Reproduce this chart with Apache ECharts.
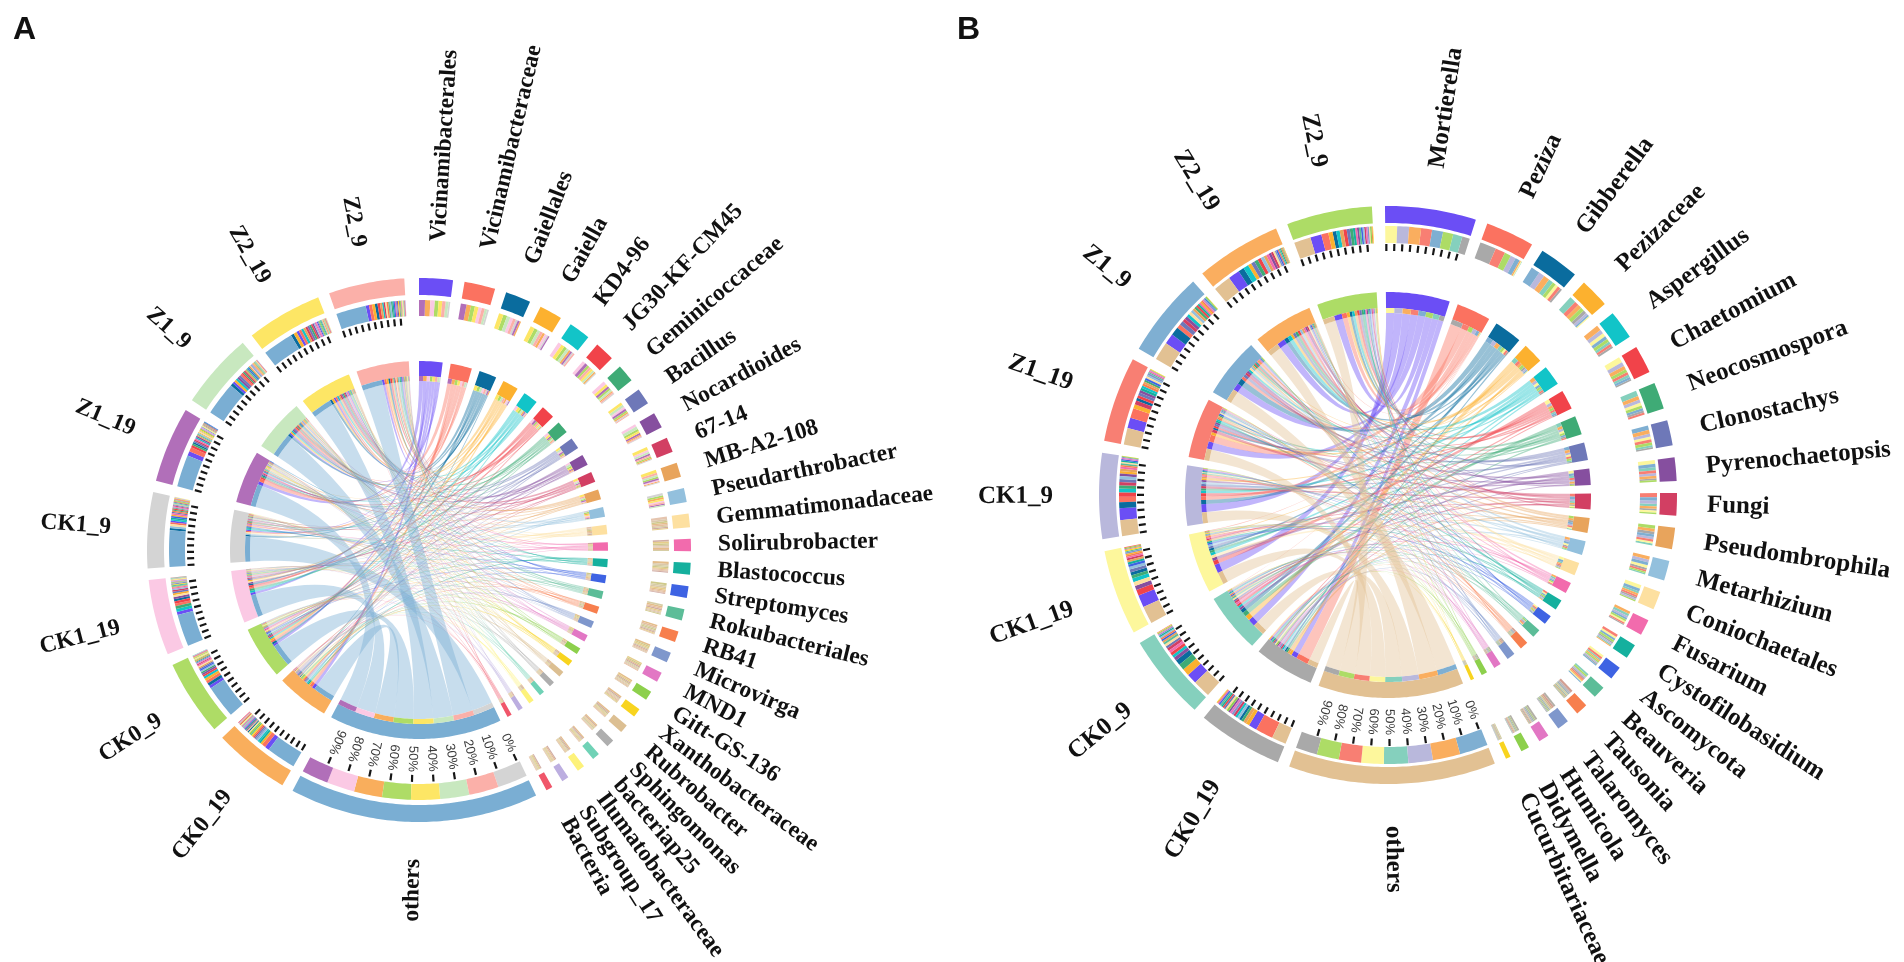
<!DOCTYPE html>
<html><head><meta charset="utf-8">
<style>html,body{margin:0;padding:0;background:#fff}#c{width:1904px;height:962px}</style>
<script src="https://cdn.jsdelivr.net/npm/echarts@6/dist/echarts.min.js"></script>
</head><body><div id="c"></div>
<script>
// ---------- data ----------
const samples = ["CK0_19","CK0_9","CK1_19","CK1_9","Z1_19","Z1_9","Z2_19","Z2_9"];
const genusColors = ["#6b4ef5","#fb7260","#0a6c9e","#fcb12f","#12c4c8","#f1434a","#3fab76","#6e78b8","#864f9f","#d23f63","#e8a45c","#93c0dd","#fde0a0","#f26bad","#15b09e","#3e63e3","#5cbd98","#f77f4e","#7f97cc","#e277c4","#8dd04c","#f8d41f","#dcbf92","#aeaeae","#70d2b6","#fdf27a","#bcaee0","#f0566a"];

const genusA = ["Vicinamibacterales","Vicinamibacteraceae","Gaiellales","Gaiella","KD4-96","JG30-KF-CM45","Geminicoccaceae","Bacillus","Nocardioides","67-14","MB-A2-108","Pseudarthrobacter","Gemmatimonadaceae","Solirubrobacter","Blastococcus","Streptomyces","Rokubacteriales","RB41","Microvirga","MND1","Gitt-GS-136","Xanthobacteraceae","Rubrobacter","Sphingomonas","bacteriap25","Ilumatobacteraceae","Subgroup_17","Bacteria"];
const genusSizeA = [7.2,6.6,5.4,4.9,4.6,4.2,3.8,3.5,3.4,3.2,3.1,3.0,2.9,2.6,2.5,2.5,2.4,2.3,2.2,2.1,2.0,1.9,1.8,1.7,1.6,1.6,1.5,1.4];
const othersSizeA = 53.2;
const sampleSizeA = [16.2,16.2,16.2,16.2,16.2,16.2,16.2,16.2];
const sampleColorsA = ["#f9ae5c","#aedc66","#fbc9e4","#d4d4d4","#b16fb9","#c8e8bf","#fde665","#fbb0a9"];
const othersColorA = "#7aaed3";
const othersStackA = [12.2,12.4,12,13,11.5,12.6,12.5,12.8];
const othersShareInSampleA = [0.42,0.47,0.46,0.52,0.46,0.48,0.44,0.43];
const flowsA = [
 [16,12,13,5,18,9,11,10],[15,13,11,6,19,8,12,10],[6,16,12,9,8,14,18,11],[12,17,11,7,6,14,20,13],
 [10,15,19,8,9,14,17,8],[9,14,18,6,16,11,12,14],[8,13,22,7,14,12,16,8],[11,12,15,8,13,17,18,6],
 [9,16,18,6,12,18,14,7],[8,10,15,7,13,14,22,11],[8,13,9,6,12,14,23,15],[14,15,12,16,10,9,13,11],
 [12,13,19,15,10,11,8,12],[11,14,12,13,16,9,15,10],[20,12,10,14,9,13,11,11],[12,18,9,14,8,15,13,11],
 [15,9,11,10,13,16,12,14],[16,13,9,12,11,14,10,15],[18,14,8,10,12,13,14,11],[14,15,10,11,13,12,16,9],
 [18,13,11,9,14,10,15,10],[19,11,12,8,15,13,10,12],[17,14,9,12,16,10,12,10],[16,12,13,10,15,11,14,9],
 [18,11,10,13,15,12,12,9],[17,15,12,9,16,11,10,10],[16,12,14,10,18,9,12,9],[14,13,10,12,17,11,13,10]
];

const genusB = ["Mortierella","Peziza","Gibberella","Pezizaceae","Aspergillus","Chaetomium","Neocosmospora","Clonostachys","Pyrenochaetopsis","Fungi","Pseudombrophila","Metarhizium","Coniochaetales","Fusarium","Cystofilobasidium","Ascomycota","Beauveria","Tausonia","Talaromyces","Humicola","Didymella","Cucurbitariaceae"];
const genusSizeB = [18.3,9.8,8,5.9,5.8,5.6,5.4,5.1,4.7,4.5,4.3,4,3.7,3.2,3,2.7,2.5,2.4,2.4,2.1,1.7,1.0];
const othersSizeB = 41.7;
const sampleSizeB = [17.2,17.2,17.2,17.2,17.2,17.2,17.2,17.2];
const sampleColorsB = ["#a9a9a9","#85d0bd","#fdf79c","#b9b8dc","#f87f73","#7fafd2","#faae5f","#addc66"];
const othersColorB = "#e2c193";
const othersStackB = [11,12.4,11.5,12.5,11.4,14.5,14,11.3];
const othersShareInSampleB = [0.18,0.22,0.22,0.20,0.21,0.23,0.22,0.21];
const flowsB = [
 [9,11,14,14,13,13,14,12],[36,1,2,12,22,10,3,14],[6,13,8,16,8,24,16,9],[12,24,5,9,16,6,14,14],
 [8,10,14,15,9,12,20,12],[6,10,22,16,11,9,14,12],[9,22,12,13,8,10,15,11],[7,9,12,13,12,19,16,12],
 [8,14,18,12,13,15,12,8],[10,12,9,15,20,16,11,7],[14,9,10,12,11,13,15,16],[12,7,14,16,10,15,18,8],
 [10,12,22,9,11,17,12,7],[8,17,11,13,9,12,18,12],[11,9,15,10,19,14,8,14],[10,12,18,11,16,9,12,12],
 [13,16,10,14,12,9,11,15],[7,12,13,15,21,14,10,8],[18,10,12,8,16,11,14,11],[20,9,11,13,10,14,8,15],
 [22,8,12,9,10,13,11,15],[14,10,24,9,12,8,11,12]
];

const percentTicks = ["0%","10%","20%","30%","40%","50%","60%","70%","80%","90%"];

// ---------- styles & layout (not data) ----------
const panelsCfg = [
 {key:"A",center:[419,550],start:0,gap:2.45,out:[272,255],stack:[250,234],tick:[232,225],pct:222,inner:[189,174],strip:[174,169],label:309,labelLeft:309,labelSide:10,font:23.5,
  muteBelow:3.0,muteColor:"#dcc39a",muteAmt:0.72,
  genus:genusA,size:genusSizeA,others:othersSizeA,sSize:sampleSizeA,sColor:sampleColorsA,oColor:othersColorA,oStack:othersStackA,oShare:othersShareInSampleA,flows:flowsA},
 {key:"B",center:[1388,495],start:-0.6,gap:2.4,out:[289,272],stack:[269,252],tick:[251,244],pct:240,inner:[203,187],strip:[187,182],label:331,labelLeft:335,labelSide:12,font:25,
  muteBelow:2.5,muteColor:"#b9b5a6",muteAmt:0.6,
  genus:genusB,size:genusSizeB,others:othersSizeB,sSize:sampleSizeB,sColor:sampleColorsB,oColor:othersColorB,oStack:othersStackB,oShare:othersShareInSampleB,flows:flowsB}
];
const TICK_MIN_SIZE = 12;

function arc(api,r,a0,a1){
  const n=Math.max(2,Math.ceil(Math.abs(a1-a0)/0.75)+1),p=[];
  for(let i=0;i<n;i++)p.push(api.coord([r,a0+(a1-a0)*i/(n-1)]));
  return p;
}
function bez(p0,c,p1){
  const o=[];
  for(let i=1;i<24;i++){const t=i/24,u=1-t;o.push([u*u*p0[0]+2*u*t*c[0]+t*t*p1[0],u*u*p0[1]+2*u*t*c[1]+t*t*p1[1]]);}
  return o;
}
function rgb(h){const n=parseInt(h.slice(1),16);return [n>>16,(n>>8)&255,n&255];}
function hexA(h,a){const c=rgb(h);return `rgba(${c[0]},${c[1]},${c[2]},${a})`;}
function mix(h,m,t){const a=rgb(h),b=rgb(m);return `rgb(${a.map((v,i)=>Math.round(v*(1-t)+b[i]*t)).join(",")})`;}

function build(cfg,pi){
  const G=cfg.genus.length,S=samples.length;
  const rows=cfg.flows.concat([cfg.oStack]);            // row G = others
  const sizes=cfg.size.concat([cfg.others]);
  const rowColor=i=>i===G?cfg.oColor:genusColors[i];
  // sector placement
  let cur=cfg.start; const gs=[],ss=[];
  for(let i=0;i<=G;i++){gs.push([cur,cur+sizes[i]]);cur+=sizes[i]+cfg.gap;}
  for(let j=0;j<S;j++){ss.push([cur,cur+cfg.sSize[j]]);cur+=cfg.sSize[j]+cfg.gap;}
  // genus side slices
  const gSlice={},sSlice={};
  rows.forEach((row,i)=>{
    const tot=row.reduce((a,b)=>a+b,0);
    const order=row.map((v,j)=>[v,j]).sort((a,b)=>b[0]-a[0]);
    let a=gs[i][0];
    order.forEach(([v,j])=>{const w=v/tot*sizes[i];gSlice[i+"_"+j]=[a,a+w];a+=w;});
  });
  // sample side slices: others first, genera by size of their flow
  for(let j=0;j<S;j++){
    const list=[];let sum=0;
    for(let i=0;i<G;i++){const tot=rows[i].reduce((a,b)=>a+b,0);const v=rows[i][j]/tot*sizes[i];list.push([v,i]);sum+=v;}
    list.sort((a,b)=>b[0]-a[0]);
    const W=cfg.sSize[j];let a=ss[j][0];
    const oW=W*cfg.oShare[j];sSlice[G+"_"+j]=[a,a+oW];a+=oW;
    list.forEach(([v,i])=>{const w=v/sum*(W-oW);sSlice[i+"_"+j]=[a,a+w];a+=w;});
  }
  // marks
  const ribbons=[],bands=[],ticks=[],labels=[];
  for(let i=0;i<G;i++)for(let j=0;j<S;j++)pushRib(i,j);
  for(let j=0;j<S;j++)pushRib(G,j);
  function pushRib(i,j){const g=gSlice[i+"_"+j],s=sSlice[i+"_"+j];ribbons.push({value:[g[0],g[1],s[0],s[1],cfg.strip[1]],c:hexA(rowColor(i),0.42)});}
  const addBand=(a,r,c)=>bands.push({value:[a[0],a[1],r[1],r[0]],c});
  for(let i=0;i<=G;i++){
    addBand(gs[i],cfg.out,rowColor(i));addBand(gs[i],cfg.inner,rowColor(i));
    const mute=sizes[i]<cfg.muteBelow;
    for(let j=0;j<S;j++){
      const a=gSlice[i+"_"+j];
      const col=mute?mix(cfg.sColor[j],cfg.muteColor,cfg.muteAmt):cfg.sColor[j];
      addBand(a,cfg.stack,col);addBand(a,cfg.strip,col);
    }
    labels.push(makeLabel(i===G?"others":cfg.genus[i],gs[i]));
    if(sizes[i]>=TICK_MIN_SIZE)addTicks(gs[i],i===G);
  }
  for(let j=0;j<S;j++){
    addBand(ss[j],cfg.out,cfg.sColor[j]);addBand(ss[j],cfg.inner,cfg.sColor[j]);
    for(let i=0;i<=G;i++){const a=sSlice[i+"_"+j];addBand(a,cfg.stack,rowColor(i));addBand(a,cfg.strip,rowColor(i));}
    labels.push(makeLabel(samples[j],ss[j]));
    addTicks(ss[j],false);
  }
  function addTicks(a,withText){
    percentTicks.forEach((t,k)=>{
      const ang=a[0]+(a[1]-a[0])*k/10+(a[1]-a[0])*0.012;
      ticks.push({value:[ang,cfg.tick[0],cfg.tick[1]]});
      if(withText)labels.push({value:[ang,cfg.pct],t,small:true});
    });
  }
  function makeLabel(t,a){
    const m=(a[0]+a[1])/2,s=Math.sin(m*Math.PI/180);
    const r=m<180?cfg.label-cfg.labelSide*s*s:cfg.labelLeft;
    return {value:[m,r],t};
  }

  const base={type:"custom",coordinateSystem:"polar",polarIndex:pi,silent:true,animation:false,progressive:0,clip:false};
  return [
   Object.assign({},base,{name:cfg.key+" ribbons",z:2,encode:{angle:0,radius:4},data:ribbons,renderItem(p,api){
     const g0=api.value(0),g1=api.value(1),s0=api.value(2),s1=api.value(3),r=api.value(4);
     const c=api.coord([0,0]);
     const A=arc(api,r,g0,g1),B=arc(api,r,s0,s1);
     const pts=A.concat(bez(A[A.length-1],c,B[0]),B,bez(B[B.length-1],c,A[0]));
     return {type:"polygon",shape:{points:pts},style:{fill:ribbons[p.dataIndex].c,stroke:null}};
   }}),
   Object.assign({},base,{name:cfg.key+" bands",z:3,encode:{angle:0,radius:3},data:bands,renderItem(p,api){
     const a0=api.value(0),a1=api.value(1),r0=api.value(2),r1=api.value(3);
     const pts=arc(api,r1,a0,a1).concat(arc(api,r0,a1,a0));
     return {type:"polygon",shape:{points:pts},style:{fill:bands[p.dataIndex].c,stroke:null}};
   }}),
   Object.assign({},base,{name:cfg.key+" ticks",z:4,encode:{angle:0,radius:1},data:ticks,renderItem(p,api){
     const a=api.value(0),q=api.coord([api.value(1),a]),w=api.coord([api.value(2),a]);
     return {type:"line",shape:{x1:q[0],y1:q[1],x2:w[0],y2:w[1]},style:{stroke:"#161616",lineWidth:2.2}};
   }}),
   Object.assign({},base,{name:cfg.key+" labels",z:5,encode:{angle:0,radius:1},data:labels,renderItem(p,api){
     const it=labels[p.dataIndex],ang=api.value(0),q=api.coord([api.value(1),ang]);
     if(it.small){
       return {type:"text",x:q[0],y:q[1],rotation:-(ang-90)*Math.PI/180,
         style:{text:it.t,align:"right",verticalAlign:"middle",fill:"#3a3a3a",font:"13px 'Liberation Sans'"}};
     }
     const right=ang<180;
     return {type:"text",x:q[0],y:q[1],rotation:-(right?ang-90:ang-270)*Math.PI/180,
       style:{text:it.t,align:right?"left":"right",verticalAlign:"middle",fill:"#111",font:"bold "+cfg.font+"px 'Liberation Serif'"}};
   }})
  ];
}

const chart=echarts.init(document.getElementById("c"),null,{renderer:"canvas"});
const R=340;
chart.setOption({
  backgroundColor:"#fff",animation:false,
  title:[
   {text:"A",left:8,top:9,textStyle:{fontFamily:"Liberation Sans",fontWeight:"bold",fontSize:32,color:"#111"}},
   {text:"B",left:952,top:9,textStyle:{fontFamily:"Liberation Sans",fontWeight:"bold",fontSize:32,color:"#111"}}
  ],
  tooltip:{show:false},
  polar:panelsCfg.map(c=>({center:c.center,radius:R})),
  angleAxis:panelsCfg.map((c,i)=>({polarIndex:i,type:"value",min:0,max:360,startAngle:90,show:false})),
  radiusAxis:panelsCfg.map((c,i)=>({polarIndex:i,type:"value",min:0,max:R,show:false})),
  series:panelsCfg.flatMap((c,i)=>build(c,i))
});
</script></body></html>
